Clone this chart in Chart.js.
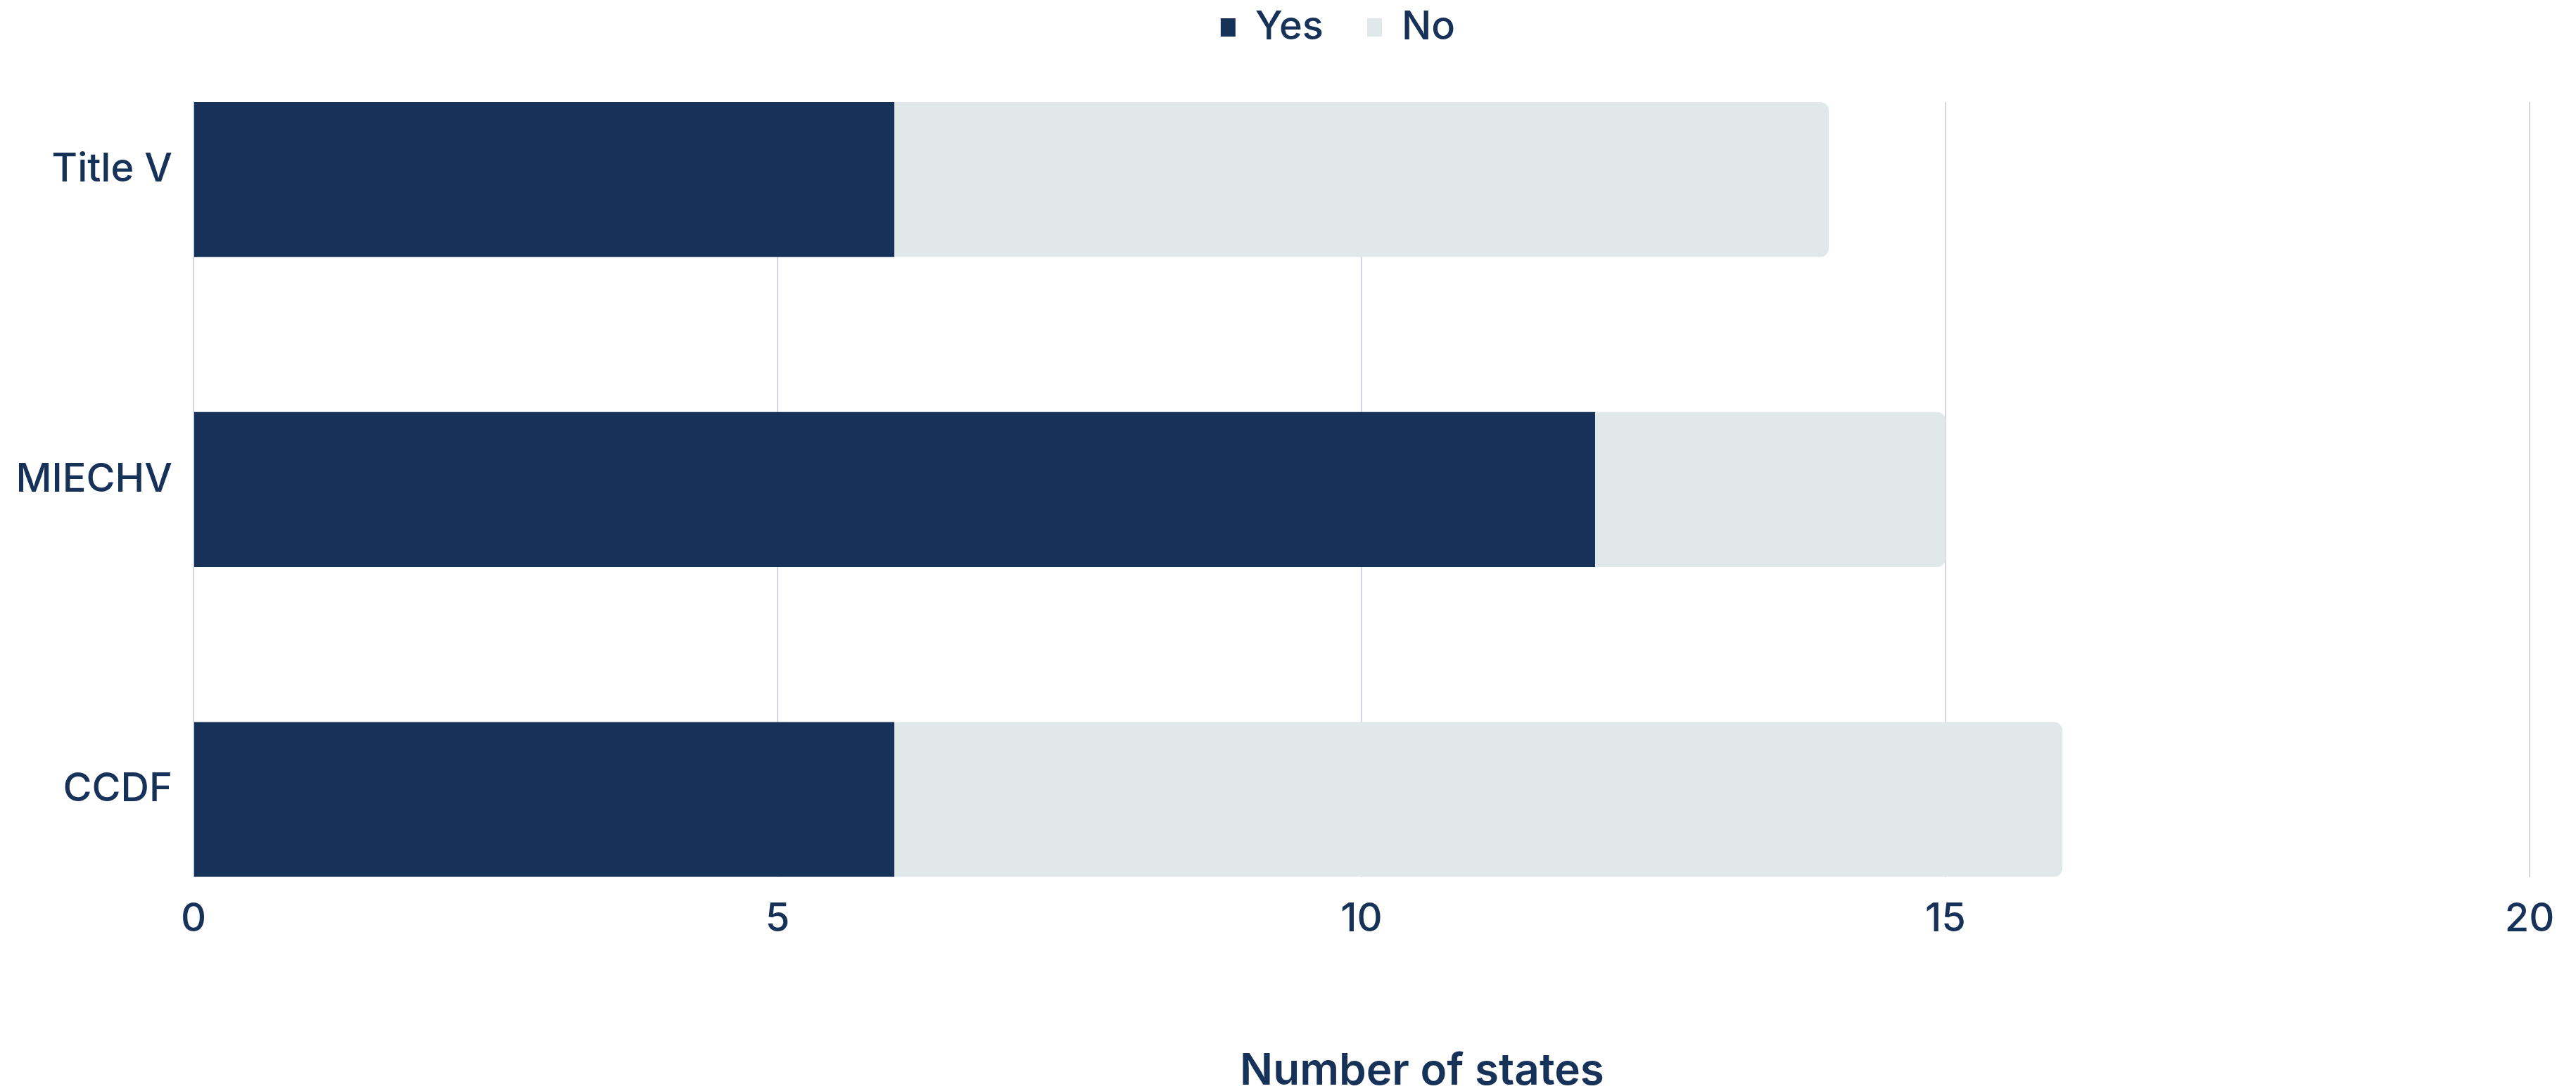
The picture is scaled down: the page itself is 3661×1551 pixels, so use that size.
<!DOCTYPE html>
<html>
<head>
<meta charset="utf-8">
<title>Number of states</title>
<script src="https://cdn.jsdelivr.net/npm/chart.js@4.4.1/dist/chart.umd.min.js"></script>
<style>
  html, body { margin: 0; padding: 0; background: #ffffff; }
  #wrap { width: 3661px; height: 1551px; }
</style>
</head>
<body>
<div id="wrap"><canvas id="chartProgramas"></canvas></div>
<script>
const PROGRAMAS = ['Title V', 'MIECHV', 'CCDF'];
const ESTADOS_SI = [6, 12, 6];
const ESTADOS_NO = [8, 3, 10];
const TICKS_X = [0, 5, 10, 15, 20];

const AZUL = '#163259';
const GRIS = '#e0e8ea';
const LINEA = '#d2d6e1';
const FUENTE = "Inter, 'Noto Sans', sans-serif";

// espacio extra debajo de la leyenda y leyenda algo corrida a la derecha
const margenLeyenda = {
  id: 'margenLeyenda',
  beforeInit(chart) {
    const fitOriginal = chart.legend.fit;
    chart.legend.fit = function () {
      fitOriginal.bind(chart.legend)();
      this.height += 68;
    };
  },
  afterLayout(chart) {
    chart.legend.left += 208;
  },
};

// el título del eje x va un poco a la derecha del centro
const corrimientoTitulo = {
  id: 'corrimientoTitulo',
  beforeDraw(chart) {
    const eje = chart.scales.x;
    if (eje._tituloCorrido) return;
    const drawTitleOriginal = eje.drawTitle;
    eje.drawTitle = function () {
      this.left += 86;
      this.right += 86;
      drawTitleOriginal.call(this);
      this.left -= 86;
      this.right -= 86;
    };
    eje._tituloCorrido = true;
  },
};

const ctx = document.getElementById('chartProgramas');
new Chart(ctx, {
  type: 'bar',
  data: {
    labels: PROGRAMAS,
    datasets: [
      {
        label: 'Yes',
        data: ESTADOS_SI,
        backgroundColor: AZUL,
        borderWidth: 0,
      },
      {
        label: 'No',
        data: ESTADOS_NO,
        backgroundColor: GRIS,
        borderWidth: 0,
        borderRadius: 12,
      },
    ],
  },
  plugins: [margenLeyenda, corrimientoTitulo],
  options: {
    indexAxis: 'y',
    responsive: true,
    maintainAspectRatio: false,
    animation: false,
    categoryPercentage: 0.5,
    barPercentage: 1,
    layout: {
      padding: { top: -51, right: 66, bottom: -3, left: 0 },
    },
    plugins: {
      tooltip: { enabled: false },
      legend: {
        position: 'top',
        labels: {
          color: AZUL,
          font: { family: FUENTE, size: 56, weight: 500 },
          boxWidth: 21,
          boxHeight: 26,
          padding: 62,
        },
      },
    },
    scales: {
      x: {
        stacked: true,
        min: 0,
        max: 20,
        afterBuildTicks: scale => {
          scale.ticks = TICKS_X.map(v => ({ value: v }));
        },
        grid: {
          color: LINEA,
          lineWidth: 2,
          drawTicks: false,
        },
        border: { display: false },
        ticks: {
          color: AZUL,
          font: { family: FUENTE, size: 56, weight: 500 },
          padding: 27,
        },
        title: {
          display: true,
          text: 'Number of states',
          color: AZUL,
          font: { family: FUENTE, size: 62, weight: 600, lineHeight: 1 },
          padding: { top: 124, bottom: 0 },
        },
      },
      y: {
        stacked: true,
        offset: false,
        grid: { display: false, drawTicks: false },
        border: { display: true, color: LINEA, width: 2 },
        // las barras de los extremos tocan el borde del área del gráfico
        afterBuildTicks: scale => {
          scale.ticks = PROGRAMAS.map((p, i) => ({ value: i }));
          scale._startValue = -0.25;
          scale._valueRange = PROGRAMAS.length - 0.5;
        },
        afterFit: scale => {
          scale.width = 275;
        },
        ticks: {
          color: AZUL,
          font: { family: FUENTE, size: 56, weight: 500 },
          padding: 30,
          labelOffset: -14,
        },
      },
    },
  },
});
</script>
</body>
</html>
